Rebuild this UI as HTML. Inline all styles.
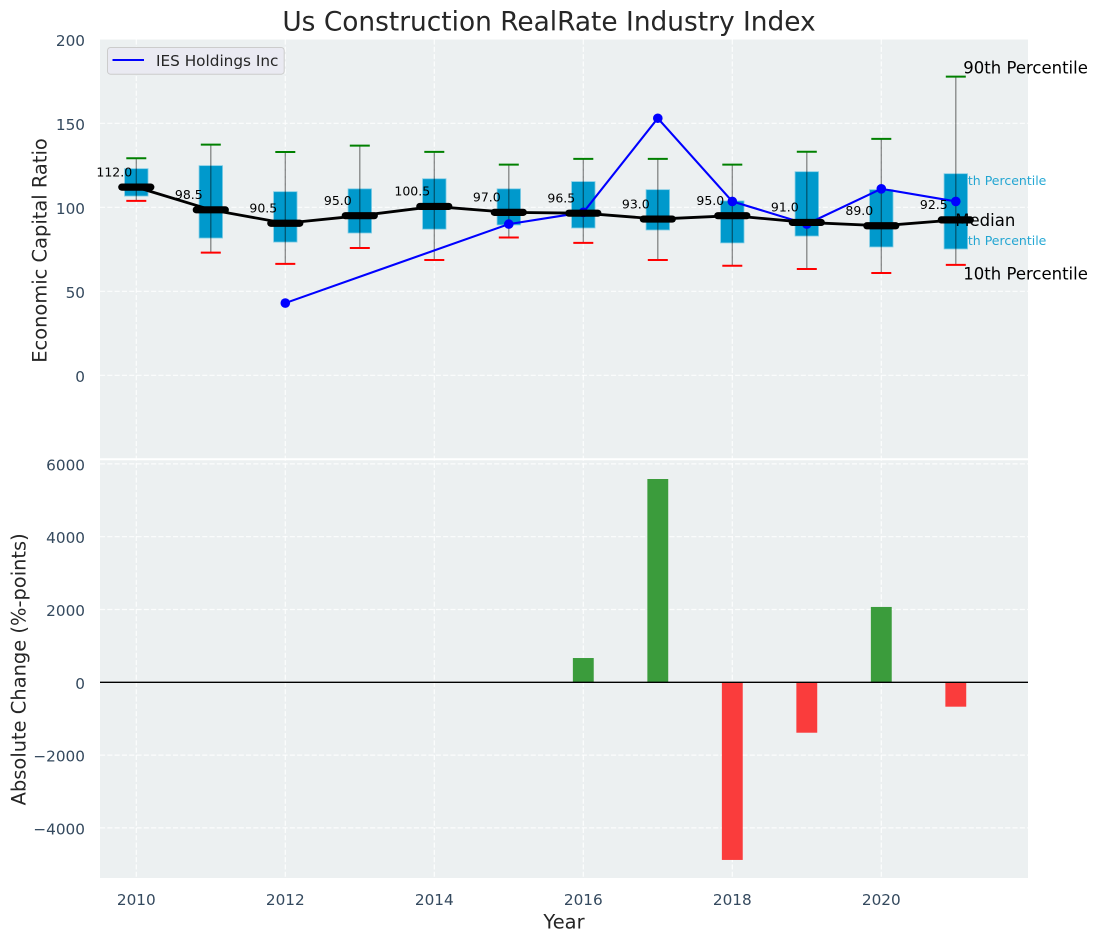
<!DOCTYPE html>
<html lang="en">
<head>
<meta charset="utf-8">
<title>Us Construction RealRate Industry Index</title>
<style>
html,body{margin:0;padding:0;background:#fff;width:1098px;height:942px;overflow:hidden}
svg{display:block;font-family:"DejaVu Sans","Liberation Sans",sans-serif}
</style>
</head>
<body>
<svg id="chart" xmlns="http://www.w3.org/2000/svg" width="1098" height="942" viewBox="0 0 1098 942">
  <rect x="0" y="0" width="1098" height="942" fill="#ffffff"/>
  <rect x="100" y="39.5" width="928" height="419.5" fill="#ecf0f1"/>
  <rect x="100" y="459" width="928" height="419" fill="#ecf0f1"/>
  <g id="grid"></g>
  <line x1="100" x2="1028" y1="459.2" y2="459.2" stroke="#ffffff" stroke-width="2"/>
  <g id="annotations-back"></g>
  <g id="boxes"></g>
  <g id="bars"></g>
  <line x1="100" x2="1028" y1="682.3" y2="682.3" stroke="#000000" stroke-width="1.4"/>
  <g id="company"></g>
  <g id="medians"></g>
  <g id="annotations-front"></g>
  <g id="ticks"></g>
  <text x="549" y="30.5" text-anchor="middle" font-size="26.4px" fill="#262626">Us Construction RealRate Industry Index</text>
  <text transform="translate(46.7,250.5) rotate(-90)" text-anchor="middle" font-size="19.44px" fill="#262626">Economic Capital Ratio</text>
  <text transform="translate(25.3,669.3) rotate(-90)" text-anchor="middle" font-size="19.44px" fill="#262626">Absolute Change (%-points)</text>
  <text x="564" y="928.5" text-anchor="middle" font-size="19.44px" fill="#262626">Year</text>
  <g>
    <rect x="107.5" y="47.5" width="176.7" height="26.7" rx="3" fill="#eaeaf2" stroke="#cccccc" stroke-width="1"/>
    <line x1="112.5" x2="144" y1="60" y2="60" stroke="#0000ff" stroke-width="2.1"/>
    <text x="156" y="66" font-size="15.28px" fill="#262626">IES Holdings Inc</text>
  </g>
</svg>
<script>
const years = [2010, 2011, 2012, 2013, 2014, 2015, 2016, 2017, 2018, 2019, 2020, 2021];
const p90 = [129.2, 137.3, 132.9, 136.7, 133, 125.4, 128.8, 128.8, 125.4, 133.1, 140.7, 177.8];
const p75 = [123, 124.8, 109.3, 111, 117, 111, 115.3, 110.5, 103.8, 121.2, 110.5, 120];
const medianValues = [112, 98.5, 90.5, 95, 100.5, 97, 96.5, 93, 95, 91, 89, 92.5];
const p25 = [106.7, 81.7, 79.3, 84.7, 87, 89.5, 87.7, 86.5, 78.8, 82.9, 76.4, 75.2];
const p10 = [103.8, 73, 66.3, 75.8, 68.6, 82, 78.8, 68.6, 65.2, 63.3, 60.9, 65.7];
const companyYears = [2012, 2015, 2016, 2017, 2018, 2019, 2020, 2021];
const companyValues = [43, 90, 97, 153, 103.5, 90, 111, 103.5];
const changeYears = [2016, 2017, 2018, 2019, 2020, 2021];
const changeValues = [667, 5585, -4880, -1385, 2070, -670];
const xTickValues = [2010, 2012, 2014, 2016, 2018, 2020];
const topTickValues = [200, 150, 100, 50, 0];
const bottomTickValues = [6000, 4000, 2000, 0, -2000, -4000];

const SVGNS = 'http://www.w3.org/2000/svg';
const xScale = function (year) { return 136.3 + 74.5 * (year - 2010); };
const yTop = function (v) { return 375.3 - 1.68 * v; };
const yBottom = function (v) { return 682.3 - 0.0364 * v; };
const BOX_WIDTH = 0.315;
const BAR_WIDTH = 0.28;
const TICK_COLOR = '#34495e';

function make(parentId, tag, attrs, text) {
  const el = document.createElementNS(SVGNS, tag);
  for (const key in attrs) { el.setAttribute(key, attrs[key]); }
  if (text !== undefined) { el.textContent = text; }
  document.getElementById(parentId).appendChild(el);
  return el;
}

xTickValues.forEach(function (t) {
  const gridX = make('grid', 'line', {x1: xScale(t), x2: xScale(t), y1: 39.5, y2: 878, stroke: '#ffffff', 'stroke-width': 1.2, 'stroke-dasharray': '5.1,2.2', 'stroke-opacity': 0.85});
  
  
  const label = make('ticks', 'text', {x: xScale(t), y: 905, 'text-anchor': 'middle', 'font-size': '15.28px', fill: TICK_COLOR}, String(t));
  
  
});

topTickValues.forEach(function (t) {
  const y = yTop(t);
  if (t !== 200) {
    const gridLine = make('grid', 'line', {x1: 100, x2: 1028, y1: y, y2: y, stroke: '#ffffff', 'stroke-width': 1.2, 'stroke-dasharray': '5.1,2.2', 'stroke-opacity': 0.85});
    
    
  }
  const label = make('ticks', 'text', {x: 85, y: y + 6.5, 'text-anchor': 'end', 'font-size': '15.28px', fill: TICK_COLOR}, String(t));
  
  
});

bottomTickValues.forEach(function (t) {
  const y = yBottom(t);
  const gridLine = make('grid', 'line', {x1: 100, x2: 1028, y1: y, y2: y, stroke: '#ffffff', 'stroke-width': 1.2, 'stroke-dasharray': '5.1,2.2', 'stroke-opacity': 0.85});
  
  
  const text = t < 0 ? '\u2212' + Math.abs(t) : String(t);
  const label = make('ticks', 'text', {x: 85, y: y + 6.5, 'text-anchor': 'end', 'font-size': '15.28px', fill: TICK_COLOR}, text);
  
  
});

const lastIndex = years.length - 1;
const lastX = xScale(years[lastIndex]);

const label75 = make('annotations-back', 'text', {x: lastX - 3.8, y: yTop(p75[lastIndex]) + 11.5, 'font-size': '12.5px', fill: '#0099cc', 'fill-opacity': 0.85}, '75th Percentile');


const label25 = make('annotations-back', 'text', {x: lastX - 3.8, y: yTop(p25[lastIndex]) - 3.8, 'font-size': '12.5px', fill: '#0099cc', 'fill-opacity': 0.85}, '25th Percentile');



years.forEach(function (year, i) {
  const cx = xScale(year);
  const half = BOX_WIDTH * 74.5 / 2;
  const box = make('boxes', 'rect', {x: cx - half, y: yTop(p75[i]), width: half * 2, height: yTop(p25[i]) - yTop(p75[i]), fill: '#0099cc', stroke: '#7fcce5', 'stroke-width': 0.8});
  
  
  const whisker = make('boxes', 'line', {x1: cx, x2: cx, y1: yTop(p90[i]), y2: yTop(p10[i]), stroke: '#000000', 'stroke-opacity': 0.45, 'stroke-width': 1.3});
  
  
  const capHigh = make('boxes', 'line', {x1: cx - 10, x2: cx + 10, y1: yTop(p90[i]), y2: yTop(p90[i]), stroke: '#008000', 'stroke-width': 2});
  
  
  const capLow = make('boxes', 'line', {x1: cx - 10, x2: cx + 10, y1: yTop(p10[i]), y2: yTop(p10[i]), stroke: '#ff0000', 'stroke-width': 2});
  
  
});

changeYears.forEach(function (year, i) {
  const v = changeValues[i];
  const half = BAR_WIDTH * 74.5 / 2;
  const top = Math.min(yBottom(v), yBottom(0));
  const h = Math.abs(yBottom(v) - yBottom(0));
  const bar = make('bars', 'rect', {x: xScale(year) - half, y: top, width: half * 2, height: h, fill: v >= 0 ? '#3b9c3c' : '#fa3c3c'});
  
  
});

const companyPoints = companyYears.map(function (year, i) { return xScale(year) + ',' + yTop(companyValues[i]); }).join(' ');
const companyLine = make('company', 'polyline', {points: companyPoints, fill: 'none', stroke: '#0000ff', 'stroke-width': 2.1});


companyYears.forEach(function (year, i) {
  const dot = make('company', 'circle', {cx: xScale(year), cy: yTop(companyValues[i]), r: 4.8, fill: '#0000ff'});
  
  
});

const medianPoints = years.map(function (year, i) { return xScale(year) + ',' + yTop(medianValues[i]); }).join(' ');
const medianLine = make('medians', 'polyline', {points: medianPoints, fill: 'none', stroke: '#000000', 'stroke-width': 2.8});


years.forEach(function (year, i) {
  const cx = xScale(year);
  const y = yTop(medianValues[i]);
  const tick = make('medians', 'line', {x1: cx - 14.5, x2: cx + 14.5, y1: y, y2: y, stroke: '#000000', 'stroke-width': 7.2, 'stroke-linecap': 'round'});
  
  
  const label = make('medians', 'text', {x: cx - 22, y: y - 10.8, 'text-anchor': 'middle', 'font-size': '12.5px', fill: '#000000'}, medianValues[i].toFixed(1));
  
  
});

const label90 = make('annotations-front', 'text', {x: lastX + 7.5, y: yTop(p90[lastIndex]) - 3, 'font-size': '16.5px', fill: '#000000'}, '90th Percentile');


const labelMedian = make('annotations-front', 'text', {x: lastX - 0.5, y: yTop(medianValues[lastIndex]) + 6, 'font-size': '16.5px', fill: '#000000'}, 'Median');


const label10 = make('annotations-front', 'text', {x: lastX + 7.5, y: yTop(p10[lastIndex]) + 14.5, 'font-size': '16.5px', fill: '#000000'}, '10th Percentile');


</script>
</body>
</html>
